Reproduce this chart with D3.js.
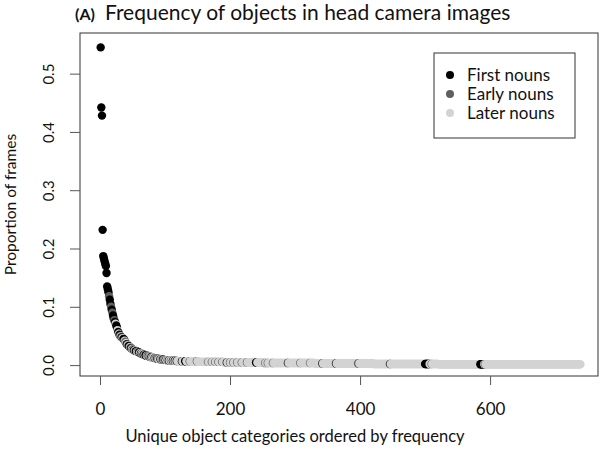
<!DOCTYPE html>
<html>
<head>
<meta charset="utf-8">
<script src="https://cdn.jsdelivr.net/npm/d3@7"></script>
<style>
  body { margin: 0; background: #fff; }
  text { font-family: Lato, "Liberation Sans", sans-serif; fill: #111; }
</style>
</head>
<body>
<div id="chart"></div>
<script>
// proportions of frames, ranks 1..120
const headValues = [
  0.545, 0.442, 0.428, 0.232, 0.187, 0.183, 0.178, 0.174, 0.170, 0.158,
  0.135, 0.130, 0.125, 0.118, 0.112, 0.105, 0.100, 0.095, 0.090, 0.085,
  0.080, 0.077, 0.074, 0.071, 0.068, 0.064, 0.060, 0.057, 0.054, 0.052,
  0.050, 0.049, 0.048, 0.047, 0.046, 0.045, 0.044, 0.042, 0.040, 0.038,
  0.036, 0.035, 0.034, 0.033, 0.032, 0.031, 0.030, 0.029, 0.028, 0.027,
  0.026, 0.026, 0.025, 0.025, 0.024, 0.024, 0.023, 0.023, 0.022, 0.022,
  0.021, 0.021, 0.020, 0.020, 0.019, 0.019, 0.018, 0.018, 0.017, 0.017,
  0.016, 0.016, 0.016, 0.015, 0.015, 0.015, 0.014, 0.014, 0.014, 0.013,
  0.013, 0.013, 0.012, 0.012, 0.012, 0.012, 0.011, 0.011, 0.011, 0.011,
  0.010, 0.010, 0.010, 0.010, 0.0095, 0.0095, 0.0095, 0.009, 0.009, 0.009,
  0.0085, 0.0085, 0.0085, 0.0085, 0.0085, 0.008, 0.008, 0.008, 0.008, 0.008,
  0.0075, 0.0075, 0.0075, 0.0075, 0.0075, 0.007, 0.007, 0.007, 0.007, 0.007
];
// long flat tail: [first rank, last rank, proportion]
const tailRuns = [
  [121, 150, 0.0065],
  [151, 190, 0.0055],
  [191, 250, 0.0045],
  [251, 330, 0.0035],
  [331, 420, 0.0027],
  [421, 520, 0.0020],
  [521, 620, 0.0015],
  [621, 739, 0.0012]
];
// ranks of first nouns / early nouns, everything else is a later noun
const firstNounRanks = [1,2,3,4,5,6,7,8,9,10,11,12,13,15,16,18,20,21,23,25,26,28,30,
  33,36,37,41,44,45,48,52,55,56,60,63,67,70,71,75,79,84,88,93,97,101,106,112,115,118,
  126,131,132,195,240,241,289,342,363,446,500,501,502,503,504,505,506,585,586,587,588,589,590];
const earlyNounRanks = [14,17,19,22,31,34,39,42,47,50,53,58,61,65,68,73,77,81,86,90,95,99,
  104,109,138,149,166,172,177,182,188,200,205,211,218,226,254,258,266,308,323,397,398,510,592];

const categories = ["First nouns", "Early nouns", "Later nouns"];
const colors = ["#000000", "#5f5f5f", "#d3d3d3"];
const xTicks = [0, 200, 400, 600];
const yTicks = [0, 0.1, 0.2, 0.3, 0.4, 0.5];

// build points
const points = headValues.map((v, i) => ({ rank: i + 1, value: v }));
tailRuns.forEach(([a, b, v]) => {
  for (let r = a; r <= b; r++) points.push({ rank: r, value: v });
});
points.forEach(p => {
  p.cat = firstNounRanks.includes(p.rank) ? 0 : earlyNounRanks.includes(p.rank) ? 1 : 2;
});

const width = 600, height = 460;
const plot = { left: 80, right: 598, top: 33, bottom: 376 };

const svg = d3.select("#chart").append("svg")
  .attr("width", width)
  .attr("height", height);

const x = d3.scaleLinear().domain([-30.8, 766]).range([plot.left, plot.right]);
const y = d3.scaleLinear().domain([-0.0187, 0.5697]).range([plot.bottom, plot.top]);

// points, drawn in rank order so each covers the one before
svg.append("g")
  .selectAll("circle")
  .data(points)
  .join("circle")
  .attr("cx", d => x(d.rank))
  .attr("cy", d => y(d.value))
  .attr("r", 4.2)
  .attr("fill", d => colors[d.cat]);

// box
svg.append("rect")
  .attr("x", plot.left)
  .attr("y", plot.top)
  .attr("width", plot.right - plot.left)
  .attr("height", plot.bottom - plot.top)
  .attr("fill", "none")
  .attr("stroke", "#333")
  .attr("stroke-width", 1);

// x axis
const xAxis = svg.append("g")
  .attr("transform", `translate(0,${plot.bottom})`)
  .call(d3.axisBottom(x).tickValues(xTicks).tickSize(9).tickPadding(18).tickFormat(d3.format("d")));
xAxis.select(".domain").remove();
xAxis.selectAll("line").attr("stroke", "#555");
xAxis.selectAll("text").style("font-size", "17px").style("font-family", "Lato, sans-serif").attr("fill", "#111");

// y axis
const yAxis = svg.append("g")
  .attr("transform", `translate(${plot.left},0)`)
  .call(d3.axisLeft(y).tickValues(yTicks).tickSize(10).tickFormat(d3.format(".1f")));
yAxis.select(".domain").remove();
yAxis.selectAll("line").attr("stroke", "#555");
yAxis.selectAll("text")
  .style("font-size", "15px")
  .style("font-family", "Lato, sans-serif")
  .attr("fill", "#111")
  .attr("text-anchor", "middle")
  .attr("x", 0).attr("dy", 0)
  .attr("transform", "translate(-30,0) rotate(-90)")
  .attr("dominant-baseline", "middle");

// title
const title = svg.append("text")
  .attr("x", 75)
  .attr("y", 20);
title.append("tspan").style("font-weight", "bold").style("font-size", "16px").text("(A)");
title.append("tspan").attr("dx", 10).style("font-size", "21px").text("Frequency of objects in head camera images");

// axis labels
svg.append("text")
  .attr("x", 295)
  .attr("y", 442)
  .attr("text-anchor", "middle")
  .style("font-size", "16.5px")
  .text("Unique object categories ordered by frequency");

svg.append("text")
  .attr("transform", `translate(16,${(plot.top + plot.bottom) / 2}) rotate(-90)`)
  .attr("text-anchor", "middle")
  .style("font-size", "15.5px")
  .text("Proportion of frames");

// legend
const legend = svg.append("g").attr("transform", "translate(434,53)");
legend.append("rect")
  .attr("width", 141)
  .attr("height", 85)
  .attr("fill", "#fff")
  .attr("stroke", "#333");
categories.forEach((c, i) => {
  const row = legend.append("g").attr("transform", `translate(0,${22 + i * 19})`);
  row.append("circle").attr("cx", 16).attr("cy", 0).attr("r", 4).attr("fill", colors[i]);
  row.append("text").attr("x", 33).attr("dy", "0.35em").style("font-size", "17px").text(c);
});
</script>
</body>
</html>
